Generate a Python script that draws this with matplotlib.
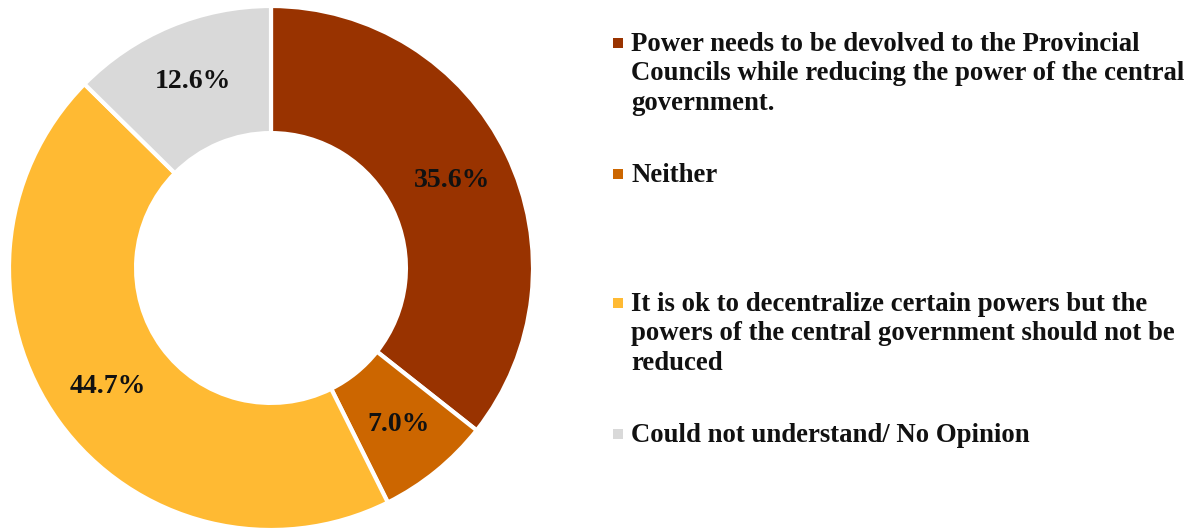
import matplotlib.pyplot as plt
from matplotlib.patches import Rectangle

# survey answers, clockwise from 12 o'clock
categories = ['Power needs to be devolved to the Provincial\nCouncils while reducing the power of the central\ngovernment.',
              'Neither',
              'It is ok to decentralize certain powers but the\npowers of the central government should not be\nreduced',
              'Could not understand/ No Opinion']
shares = [35.6, 7.0, 44.7, 12.6]
colors = ['#993300', '#CC6600', '#FFBA33', '#D9D9D9']

plt.rcParams['font.family'] = ['Liberation Serif', 'DejaVu Serif']
plt.rcParams['font.weight'] = 'bold'

W, H = 1190, 531
fig = plt.figure(figsize=(W / 100, H / 100), dpi=100)

# donut, centre approx (271, 268) px, outer radius ~262 px
ax = fig.add_axes([9 / W, 1 / H, 524 / W, 524 / H])
wedges, texts, autotexts = ax.pie(shares, colors=colors, startangle=90, counterclock=False,
                                  autopct='%1.1f%%', pctdistance=0.77, radius=1,
                                  wedgeprops=dict(width=0.485, edgecolor='white', linewidth=3),
                                  textprops=dict(fontsize=20, fontweight='bold', color='#111111'))
ax.set_xlim(-1.0, 1.0)
ax.set_ylim(-1.0, 1.0)
ax.set_aspect('equal')

# legend drawn by hand so the entries keep the spacing of the original
baselines = [51, 182, 311, 442]
line_step = 29.5
for lab, col, yb in zip(categories, colors, baselines):
    fig.add_artist(Rectangle((613 / W, 1 - (yb - 3) / H), 10 / W, 10 / H,
                             transform=fig.transFigure, facecolor=col, edgecolor='none'))
    for i, line in enumerate(lab.split('\n')):
        fig.text(631 / W, 1 - (yb + i * line_step) / H, line, fontsize=19.3,
                 fontweight='bold', color='#111111', va='baseline', ha='left')

fig.savefig('out.png', dpi=100)
